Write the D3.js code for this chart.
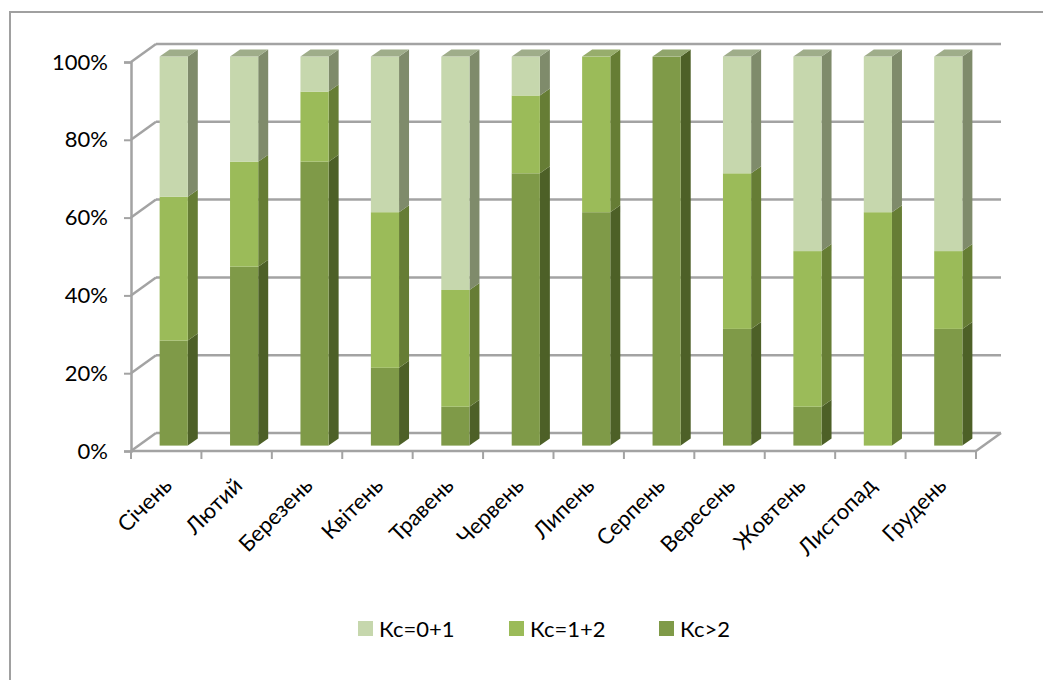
<!DOCTYPE html>
<html>
<head>
<meta charset="utf-8">
<script src="https://cdn.jsdelivr.net/npm/d3@7"></script>
<style>
  html, body { margin: 0; padding: 0; background: #fff; }
  svg { display: block; }
  text { font-family: Lato, "Open Sans", sans-serif; fill: #000; }
</style>
</head>
<body>
<svg id="chart" width="1043" height="680"></svg>
<script>
// Monthly shares of each Kc class (percent)
const months = ["Січень", "Лютий", "Березень", "Квітень", "Травень", "Червень",
                "Липень", "Серпень", "Вересень", "Жовтень", "Листопад", "Грудень"];
const kcHigh = [27, 46, 73, 20, 10, 70, 60, 100, 30, 10, 0, 30];   // Кс>2
const kcMid  = [37, 27, 18, 40, 30, 20, 40, 0, 40, 40, 60, 20];    // Кс=1+2
const kcLow  = [36, 27, 9, 40, 60, 10, 0, 0, 30, 50, 40, 50];      // Кс=0+1
const seriesNames = ["Кс=0+1", "Кс=1+2", "Кс>2"];
const yTicks = [0, 0.2, 0.4, 0.6, 0.8, 1];

const svg = d3.select("#chart");

// outer chart frame
svg.append("rect")
  .attr("x", 10).attr("y", 12).attr("width", 1060).attr("height", 700)
  .attr("fill", "none").attr("stroke", "#a0a0a0").attr("stroke-width", 2);

// front plane of the 3D plot area
const plotLeft = 131, plotRight = 976, plotBottom = 451, plotTop = 62;
const depthX = 25, depthY = -18;

const x = d3.scaleBand().domain(months).range([plotLeft, plotRight]).padding(0);
const y = d3.scaleLinear().domain([0, 1]).range([plotBottom, plotTop]);

const grid = svg.append("g");
const gridColor = "#a3a3a3";

// back-wall gridlines and left side-wall diagonals
yTicks.forEach(t => {
  grid.append("line")
    .attr("x1", plotLeft + depthX).attr("y1", y(t) + depthY)
    .attr("x2", plotRight + depthX).attr("y2", y(t) + depthY)
    .attr("stroke", gridColor).attr("stroke-width", 2.5);
  grid.append("line")
    .attr("x1", plotLeft).attr("y1", y(t))
    .attr("x2", plotLeft + depthX).attr("y2", y(t) + depthY)
    .attr("stroke", gridColor).attr("stroke-width", 2.5);
});
// floor outline
grid.append("line")
  .attr("x1", plotRight).attr("y1", plotBottom)
  .attr("x2", plotRight + depthX).attr("y2", plotBottom + depthY)
  .attr("stroke", gridColor).attr("stroke-width", 2.5);

// value axis (front left edge)
const yAxis = svg.append("g")
  .attr("transform", `translate(${plotLeft},0)`)
  .call(d3.axisLeft(y).tickValues(yTicks).tickFormat(d3.format(".0%")).tickSize(7).tickPadding(16));
yAxis.select(".domain").attr("stroke", gridColor).attr("stroke-width", 2.5);
yAxis.selectAll(".tick line").attr("stroke", gridColor).attr("stroke-width", 2);
yAxis.selectAll(".tick text").attr("font-size", 22).attr("font-family", "Lato, sans-serif").attr("fill", "#000");

// category axis (front bottom edge)
const xAxis = svg.append("g").attr("transform", `translate(0,${plotBottom})`);
xAxis.append("line")
  .attr("x1", plotLeft).attr("x2", plotRight).attr("y1", 0).attr("y2", 0)
  .attr("stroke", gridColor).attr("stroke-width", 2.5);
months.concat(["end"]).forEach((m, i) => {
  const xx = i < months.length ? x(m) : plotRight;
  xAxis.append("line")
    .attr("x1", xx).attr("x2", xx).attr("y1", 0).attr("y2", 8)
    .attr("stroke", gridColor).attr("stroke-width", 2);
});
xAxis.selectAll("text.cat")
  .data(months)
  .join("text")
  .attr("class", "cat")
  .attr("font-size", 22)
  .attr("text-anchor", "end")
  .attr("transform", d => `translate(${x(d) + x.bandwidth() / 2 + 7},${36}) rotate(-45)`)
  .text(d => d);

// 3D stacked columns
const colors = {
  low:  { front: "#c6d7ad", side: "#7f8b6b", top: "#9fad8a" },
  mid:  { front: "#9bbb59", side: "#667d35", top: "#97ad6c" },
  high: { front: "#7f9a48", side: "#4d6027", top: "#90a56c" }
};
const barW = x.bandwidth() * 0.4;
const d1x = depthX * 0.3, d1y = depthY * 0.3;   // front face depth
const dd = 10, ddy = -7;                          // bar depth offsets

const bars = svg.append("g");
months.forEach((m, i) => {
  const segs = [
    { v: kcHigh[i] / 100, c: colors.high },
    { v: kcMid[i] / 100, c: colors.mid },
    { v: kcLow[i] / 100, c: colors.low }
  ];
  const x0 = x(m) + (x.bandwidth() - barW) / 2 + d1x;
  const x1 = x0 + barW;
  let acc = 0;
  const visible = segs.filter(s => s.v > 0);
  const lastSeg = visible[visible.length - 1];
  segs.forEach(s => {
    if (s.v <= 0) return;
    const yb = y(acc) + d1y;
    const yt = y(acc + s.v) + d1y;
    acc += s.v;
    const g = bars.append("g");
    // right side face
    g.append("path")
      .attr("d", `M${x1},${yb}L${x1 + dd},${yb + ddy}L${x1 + dd},${yt + ddy}L${x1},${yt}Z`)
      .attr("fill", s.c.side);
    // front face
    g.append("rect")
      .attr("x", x0).attr("y", yt).attr("width", barW).attr("height", yb - yt)
      .attr("fill", s.c.front);
    // top face on the uppermost segment
    if (s === lastSeg) {
      g.append("path")
        .attr("d", `M${x0},${yt}L${x1},${yt}L${x1 + dd},${yt + ddy}L${x0 + dd},${yt + ddy}Z`)
        .attr("fill", s.c.top);
    }
  });
});

// legend
const legendItems = [
  { name: seriesNames[0], color: colors.low.front, x: 358 },
  { name: seriesNames[1], color: colors.mid.front, x: 509 },
  { name: seriesNames[2], color: colors.high.front, x: 659 }
];
const legend = svg.append("g");
legendItems.forEach(d => {
  legend.append("rect")
    .attr("x", d.x).attr("y", 621).attr("width", 15).attr("height", 15)
    .attr("fill", d.color);
  legend.append("text")
    .attr("x", d.x + 21).attr("y", 637)
    .attr("font-size", 22)
    .text(d.name);
});
</script>
</body>
</html>
